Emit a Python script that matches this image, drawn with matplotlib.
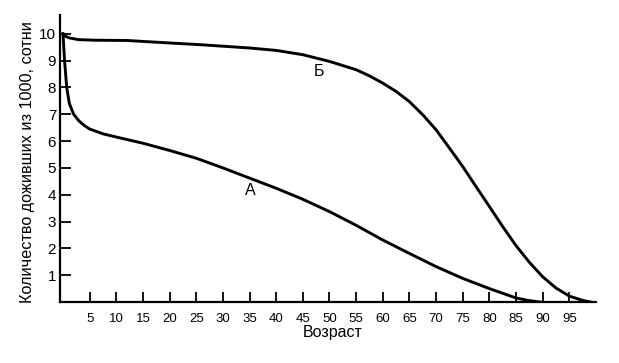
import numpy as np
import matplotlib.pyplot as plt

# survivors out of 1000 (in hundreds) by age
age_a = [0, 0.3, 0.7, 1.2, 2, 3, 4, 5, 7.5, 10, 15, 20, 25, 30, 35, 40, 45,
         50, 55, 60, 65, 70, 75, 80, 85, 87.5, 89.5]
surv_a = [10, 9.0, 8.0, 7.4, 7.0, 6.75, 6.58, 6.45, 6.27, 6.15, 5.92, 5.65, 5.36,
          5.0, 4.62, 4.24, 3.83, 3.37, 2.86, 2.31, 1.81, 1.32, 0.88, 0.5, 0.15,
          0.05, 0]

age_b = [0, 0.5, 1.3, 3, 6, 12, 18, 26, 35, 40, 45, 50, 55, 57.5, 60, 62.5, 65,
         67.5, 70, 72.5, 75, 77.5, 80, 82.5, 85, 87.5, 90, 92.5, 95, 97.5, 99]
surv_b = [10, 9.9, 9.84, 9.78, 9.76, 9.75, 9.68, 9.59, 9.47, 9.38, 9.22, 8.97,
          8.66, 8.43, 8.16, 7.85, 7.47, 6.98, 6.42, 5.74, 5.05, 4.30, 3.56, 2.81,
          2.10, 1.48, 0.94, 0.52, 0.22, 0.06, 0]

x_ticks = list(range(5, 100, 5))
y_ticks = list(range(1, 11))

plt.rcParams['font.family'] = ['Liberation Sans', 'DejaVu Sans']

fig = plt.figure(figsize=(6.19, 3.63), dpi=100)
ax = fig.add_axes([60.3/619, 61/363, 535.7/619, 287/363])

ax.plot(age_a, surv_a, color='black', lw=2.1)
ax.plot(age_b, surv_b, color='black', lw=2.1)

ax.set_xlim(-0.5, 100)
ax.set_ylim(0, 10.7)

for side in ['top', 'right']:
    ax.spines[side].set_visible(False)
for side in ['left', 'bottom']:
    ax.spines[side].set_linewidth(1.6)

ax.set_xticks(x_ticks)
ax.set_yticks(y_ticks)
ax.tick_params(axis='x', direction='in', length=7, width=1.3, pad=8, labelsize=9.5)
ax.tick_params(axis='y', direction='in', length=8, width=1.3, pad=3, labelsize=11)

ax.text(35.2, 4.14, 'А', fontsize=11.5, ha='center', va='center')
ax.text(48, 8.58, 'Б', fontsize=11.5, ha='center', va='center')

fig.text(333/619, 1 - 333/363, 'Возраст', fontsize=11.5, ha='center', va='center')
fig.text(28/619, 1 - 162/363, 'Количество доживших из 1000, сотни', fontsize=11.7,
         rotation=90, ha='center', va='center')

fig.savefig('out.png', dpi=100)
